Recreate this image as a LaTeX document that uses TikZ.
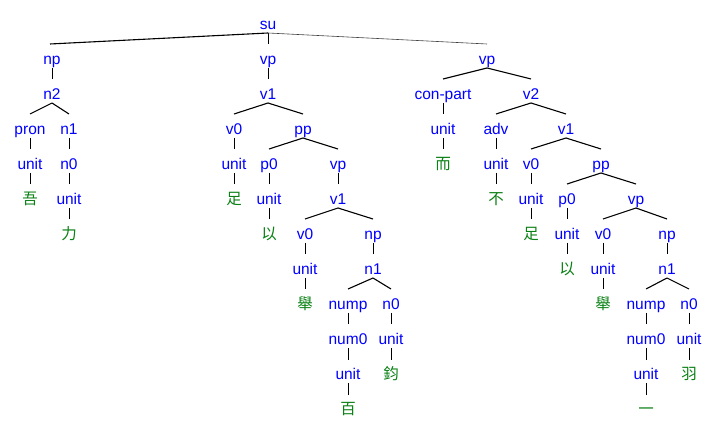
\documentclass[tikz,border=0pt]{standalone}
\usepackage{fontspec}
\setmainfont{Liberation Sans}
\newfontfamily\cjkfont{Noto Sans CJK SC}
\definecolor{leafgreen}{RGB}{10,128,20}
\tikzset{
  lab/.style={anchor=base, inner sep=0pt, yshift=-2.5pt, text=blue, font=\fontsize{15.5}{18}\selectfont},
  leaf/.style={anchor=base, inner sep=0pt, yshift=-2.5pt, text=leafgreen, font=\cjkfont\fontsize{15.5}{18}\selectfont},
  vline/.style={draw=black, line width=0.8pt},
  bline/.style={draw=black, line width=1.1pt},
  thinline/.style={draw=black!75, line width=0.6pt}
}
\newcommand\ved[2]{\draw[vline] ([yshift=-3.5pt]#1.base) -- ([yshift=20pt]#2.base);}
\newcommand\bed[2]{\draw[bline] ([yshift=-3.5pt]#1.base) -- ([yshift=20.5pt]#2.base);}
\begin{document}
\begin{tikzpicture}[x=1pt,y=-1pt]
\useasboundingbox (0,0) rectangle (717,427);
% root
\node[lab] (su) at (268,27) {su};
% left
\node[lab] (np) at (52,62) {np};
\node[lab] (n2) at (52,97) {n2};
\node[lab] (pron) at (30,132) {pron};
\node[lab] (n1a) at (69,132) {n1};
\node[lab] (u1) at (30,167) {unit};
\node[lab] (n0a) at (69,167) {n0};
\node[leaf] (c1) at (30,202) {吾};
\node[lab] (u2) at (69,202) {unit};
\node[leaf] (c2) at (69,237) {力};
% middle
\node[lab] (vpA) at (268,62) {vp};
\node[lab] (v1A) at (268,97) {v1};
\node[lab] (v0A) at (234,132) {v0};
\node[lab] (ppA) at (303,132) {pp};
\node[lab] (u3) at (234,167) {unit};
\node[leaf] (c3) at (234,202) {足};
\node[lab] (p0A) at (269,167) {p0};
\node[lab] (vpB) at (338,167) {vp};
\node[lab] (u4) at (269,202) {unit};
\node[leaf] (c4) at (269,237) {以};
\node[lab] (v1B) at (338,202) {v1};
\node[lab] (v0B) at (305,237) {v0};
\node[lab] (npB) at (373,237) {np};
\node[lab] (u5) at (305,272) {unit};
\node[leaf] (c5) at (305,307) {舉};
\node[lab] (n1B) at (373,272) {n1};
\node[lab] (numpB) at (348,307) {nump};
\node[lab] (n0B) at (391,307) {n0};
\node[lab] (num0B) at (348,342) {num0};
\node[lab] (u6) at (348,377) {unit};
\node[leaf] (c6) at (348,412) {百};
\node[lab] (u7) at (391,342) {unit};
\node[leaf] (c7) at (391,377) {鈞};
% right
\node[lab] (vpC) at (487,62) {vp};
\node[lab] (cp) at (443,97) {con-part};
\node[lab] (v2) at (531,97) {v2};
\node[lab] (u8) at (443,132) {unit};
\node[leaf] (c8) at (443,167) {而};
\node[lab] (adv) at (496,132) {adv};
\node[lab] (v1C) at (566,132) {v1};
\node[lab] (u9) at (496,167) {unit};
\node[leaf] (c9) at (496,202) {不};
\node[lab] (v0C) at (531,167) {v0};
\node[lab] (ppC) at (601,167) {pp};
\node[lab] (u10) at (531,202) {unit};
\node[leaf] (c10) at (531,237) {足};
\node[lab] (p0C) at (567,202) {p0};
\node[lab] (vpD) at (636,202) {vp};
\node[lab] (u11) at (567,237) {unit};
\node[leaf] (c11) at (567,272) {以};
\node[lab] (v0D) at (603,237) {v0};
\node[lab] (npD) at (667,237) {np};
\node[lab] (u12) at (603,272) {unit};
\node[leaf] (c12) at (603,307) {舉};
\node[lab] (n1D) at (667,272) {n1};
\node[lab] (numpD) at (646,307) {nump};
\node[lab] (n0D) at (689,307) {n0};
\node[lab] (num0D) at (646,342) {num0};
\node[lab] (u13) at (646,377) {unit};
\node[leaf] (c13) at (646,412) {一};
\node[lab] (u14) at (689,342) {unit};
\node[leaf] (c14) at (689,377) {羽};
% edges root
\draw[bline] ([yshift=-3.5pt]su.base) -- ([yshift=20.5pt,xshift=-2pt]np.base);
\ved{su}{vpA}
\draw[thinline] ([yshift=-3.5pt]su.base) -- ([yshift=20.5pt]vpC.base);
% left edges
\ved{np}{n2}
\bed{n2}{pron}\bed{n2}{n1a}
\ved{pron}{u1}\ved{n1a}{n0a}
\ved{u1}{c1}\ved{n0a}{u2}\ved{u2}{c2}
% middle edges
\ved{vpA}{v1A}
\bed{v1A}{v0A}\bed{v1A}{ppA}
\ved{v0A}{u3}\ved{u3}{c3}
\bed{ppA}{p0A}\bed{ppA}{vpB}
\ved{p0A}{u4}\ved{u4}{c4}
\ved{vpB}{v1B}
\bed{v1B}{v0B}\bed{v1B}{npB}
\ved{v0B}{u5}\ved{u5}{c5}
\ved{npB}{n1B}
\bed{n1B}{numpB}\bed{n1B}{n0B}
\ved{numpB}{num0B}\ved{num0B}{u6}\ved{u6}{c6}
\ved{n0B}{u7}\ved{u7}{c7}
% right edges
\bed{vpC}{cp}\bed{vpC}{v2}
\ved{cp}{u8}\ved{u8}{c8}
\bed{v2}{adv}\bed{v2}{v1C}
\ved{adv}{u9}\ved{u9}{c9}
\bed{v1C}{v0C}\bed{v1C}{ppC}
\ved{v0C}{u10}\ved{u10}{c10}
\bed{ppC}{p0C}\bed{ppC}{vpD}
\ved{p0C}{u11}\ved{u11}{c11}
\bed{vpD}{v0D}\bed{vpD}{npD}
\ved{v0D}{u12}\ved{u12}{c12}
\ved{npD}{n1D}
\bed{n1D}{numpD}\bed{n1D}{n0D}
\ved{numpD}{num0D}\ved{num0D}{u13}\ved{u13}{c13}
\ved{n0D}{u14}\ved{u14}{c14}
\end{tikzpicture}
\end{document}
